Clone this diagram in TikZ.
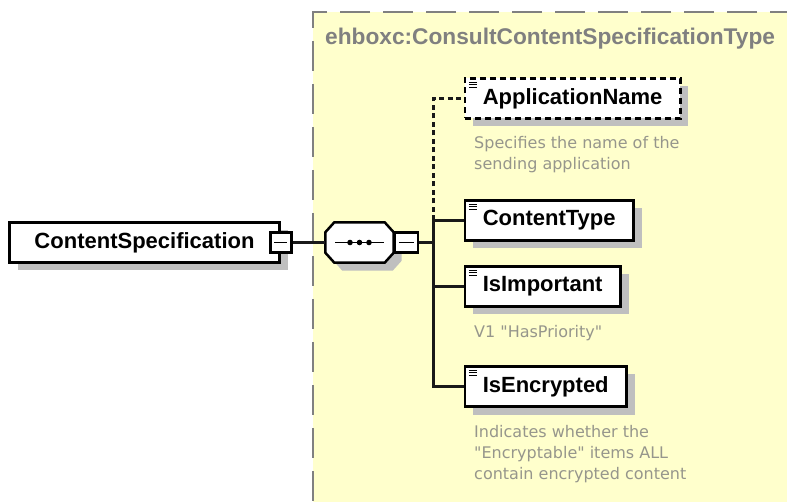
\documentclass[tikz,border=0pt]{standalone}
\usepackage{fontspec}
\setmainfont{Liberation Sans}
\newfontfamily\descfont{DejaVu Sans}
\usetikzlibrary{calc,shadows}
\definecolor{typebg}{RGB}{255,255,204}
\definecolor{typeline}{RGB}{128,128,128}
\definecolor{desctext}{RGB}{150,150,140}
\tikzset{el/.append style={draw, line width=2.5pt, fill=white, inner xsep=18pt, inner ysep=0pt, minimum height=40pt,
    font=\fontsize{22}{24}\selectfont\bfseries,
    drop shadow={shadow xshift=8pt, shadow yshift=-8pt, fill=black!25, opacity=1}}}
\tikzset{leaf/.append style={el, path picture={
    \draw[solid, line width=0.8pt] ([xshift=4pt,yshift=-3.5pt]path picture bounding box.north west) -- ++(8pt,0);
    \draw[solid, line width=0.8pt] ([xshift=4pt,yshift=-6pt]path picture bounding box.north west) -- ++(8pt,0);
    \draw[solid, line width=0.8pt] ([xshift=4pt,yshift=-8.5pt]path picture bounding box.north west) -- ++(8pt,0);}}}
\tikzset{opt/.append style={dash pattern=on 6pt off 4pt}}
\tikzset{minus/.append style={draw, line width=2.5pt, fill=white, minimum width=21pt, minimum height=20pt, inner sep=0pt,
    path picture={\draw[line width=1.5pt] ([xshift=4pt]path picture bounding box.west) -- ([xshift=-4pt]path picture bounding box.east);}}}
\tikzset{seqbox/.append style={minimum width=68pt, minimum height=40pt, inner sep=0pt}}
\tikzset{conn/.append style={line width=2.5pt, black!90}}
\tikzset{desc/.append style={anchor=north west, inner sep=0pt, align=left, text=desctext,
    font=\descfont\fontsize{16}{21}\selectfont}}
\tikzset{hdr/.append style={inner sep=0pt, text=typeline, font=\fontsize{22.7}{26}\selectfont\bfseries}}
% octagon round a node: #1 node, #2 #3 offset
\newcommand\octpath[3]{($(#1.north west)+(#2+9,#3)$) -- ($(#1.north east)+(#2-9,#3)$) -- ($(#1.north east)+(#2,#3+10)$)
    -- ($(#1.south east)+(#2,#3-10)$) -- ($(#1.south east)+(#2-9,#3)$) -- ($(#1.south west)+(#2+9,#3)$)
    -- ($(#1.south west)+(#2,#3-10)$) -- ($(#1.north west)+(#2,#3+10)$) -- cycle}

\begin{document}
\begin{tikzpicture}[x=1pt,y=-1pt]
    \useasboundingbox (0,0) rectangle (787,502);
    % complex type area
    \fill[typebg] (312.5,12.5) rectangle (800,510);
    \draw[typeline, line width=2pt, dash pattern=on 30pt off 13pt] (800,12.5) -- (312.5,12.5) -- (312.5,510);
    \node[hdr, anchor=base west] (typename) at (325,45) {ehboxc:ConsultContentSpecificationType};

    \node[el, minimum width=270pt, inner xsep=0pt] (cs) at (144.5,242.5) {ContentSpecification};
    \node[minus] (csminus) at (cs.east) {};
    \node[seqbox] (seq) at (359.5,242.5) {};
    \fill[black!25] \octpath{seq}{8}{8};
    \draw[line width=2.5pt, fill=white] \octpath{seq}{0}{0};
    \draw[line width=1.6pt] ([xshift=10pt]seq.west) -- ([xshift=-10pt]seq.east);
    \fill ([xshift=-9.5pt]seq.center) circle (2.8pt);
    \fill (seq.center) circle (2.8pt);
    \fill ([xshift=9.5pt]seq.center) circle (2.8pt);
    \node[minus, anchor=west, minimum width=23pt] (seqminus) at (seq.east) {};
    \coordinate (trunk) at (433.5,242.5);

    \node[leaf, opt, anchor=west] (app) at (463.5,98.5) {ApplicationName};
    \node[leaf, anchor=west] (ctype) at (463.5,220.5) {ContentType};
    \node[leaf, anchor=west] (imp) at (463.5,286.5) {IsImportant};
    \node[leaf, anchor=west] (enc) at (463.5,386.5) {IsEncrypted};

    \node[desc] (appdesc) at (474,136) {Specifies the name of the\\sending application};
    \node[desc] (impdesc) at (474,325) {V1 "HasPriority"};
    \node[desc] (encdesc) at (474,425) {Indicates whether the\\"Encryptable" items ALL\\contain encrypted content};

    \path (csminus) edge[conn] (seq);
    \path (seqminus) edge[conn] (trunk);
    \draw[conn] (ctype.west) -| (trunk) |- (enc.west);
    \draw[conn] (trunk |- imp.west) -- (imp.west);
    \draw[conn, dash pattern=on 5pt off 3.5pt] (trunk |- ctype.west) |- (app.west);
\end{tikzpicture}
\end{document}
